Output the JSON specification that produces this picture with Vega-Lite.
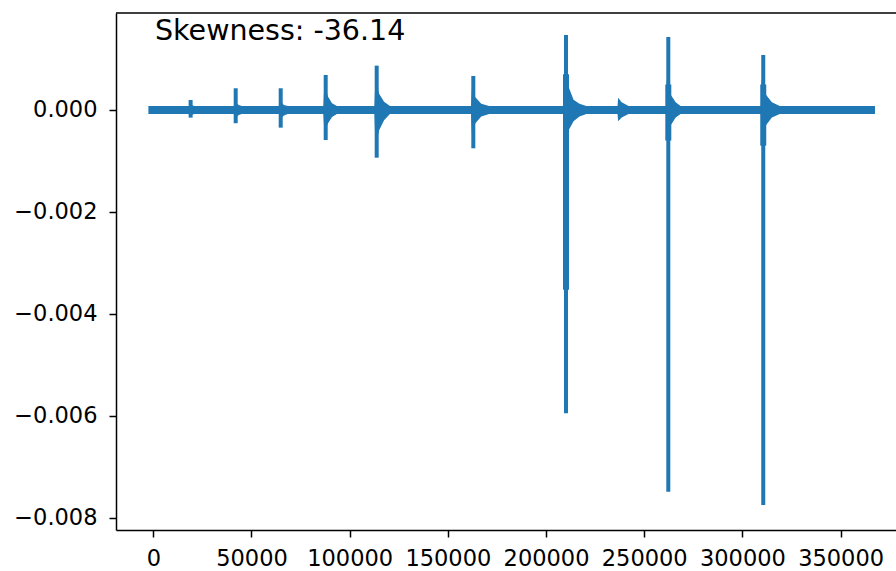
{
  "$schema": "https://vega.github.io/schema/vega-lite/v6.json",
  "width": 780,
  "height": 517,
  "autosize": {"type": "none"},
  "padding": {"left": 116, "top": 13, "right": 0, "bottom": 41},
  "background": "white",
  "config": {
    "view": {"stroke": null},
    "font": "DejaVu Sans",
    "axis": {
      "grid": false,
      "domainColor": "#000",
      "domainWidth": 1.5,
      "tickColor": "#000",
      "tickWidth": 1.5,
      "tickSize": 7,
      "labelFont": "DejaVu Sans",
      "labelFontSize": 22.5,
      "labelColor": "#000",
      "title": null
    }
  },
  "datasets": {
    "band": [
      {"x": -2500, "hi": 0.00008, "lo": -0.00008},
      {"x": 18300, "hi": 0.00008, "lo": -0.00008},
      {"x": 18700, "hi": 0.00012, "lo": -0.00012},
      {"x": 20000, "hi": 0.00009, "lo": -0.00009},
      {"x": 21000, "hi": 0.00008, "lo": -0.00008},
      {"x": 41000, "hi": 0.00008, "lo": -0.00008},
      {"x": 41500, "hi": 0.00016, "lo": -0.00016},
      {"x": 43500, "hi": 0.0001, "lo": -0.0001},
      {"x": 45000, "hi": 0.00008, "lo": -0.00008},
      {"x": 64000, "hi": 0.00008, "lo": -0.00008},
      {"x": 64500, "hi": 0.00018, "lo": -0.00018},
      {"x": 66500, "hi": 0.0001, "lo": -0.00011},
      {"x": 68500, "hi": 0.00008, "lo": -0.00008},
      {"x": 86600, "hi": 0.00008, "lo": -0.00008},
      {"x": 87100, "hi": 0.0005, "lo": -0.00042},
      {"x": 89000, "hi": 0.00026, "lo": -0.00026},
      {"x": 91000, "hi": 0.00013, "lo": -0.00014},
      {"x": 93500, "hi": 0.00008, "lo": -0.00008},
      {"x": 112600, "hi": 0.00008, "lo": -0.00008},
      {"x": 113100, "hi": 0.0006, "lo": -0.0007},
      {"x": 115000, "hi": 0.00032, "lo": -0.0004},
      {"x": 117500, "hi": 0.00016, "lo": -0.0002},
      {"x": 120500, "hi": 0.00008, "lo": -0.00008},
      {"x": 161800, "hi": 0.00008, "lo": -0.00008},
      {"x": 162300, "hi": 0.00045, "lo": -0.0005},
      {"x": 164000, "hi": 0.00025, "lo": -0.00026},
      {"x": 167000, "hi": 0.00012, "lo": -0.00013},
      {"x": 171000, "hi": 0.00008, "lo": -0.00008},
      {"x": 208900, "hi": 0.00008, "lo": -0.00008},
      {"x": 209400, "hi": 0.0008, "lo": -0.0006},
      {"x": 211500, "hi": 0.00045, "lo": -0.0004},
      {"x": 214000, "hi": 0.0002, "lo": -0.00022},
      {"x": 217000, "hi": 0.00012, "lo": -0.00013},
      {"x": 220500, "hi": 0.00008, "lo": -0.00008},
      {"x": 236400, "hi": 0.00008, "lo": -0.00008},
      {"x": 236700, "hi": 0.00024, "lo": -0.00022},
      {"x": 238500, "hi": 0.00015, "lo": -0.00015},
      {"x": 242000, "hi": 0.00008, "lo": -0.00008},
      {"x": 261100, "hi": 0.00008, "lo": -0.00008},
      {"x": 261500, "hi": 0.0006, "lo": -0.0006},
      {"x": 263500, "hi": 0.0003, "lo": -0.0003},
      {"x": 266000, "hi": 0.00015, "lo": -0.00015},
      {"x": 268500, "hi": 0.00008, "lo": -0.00008},
      {"x": 309400, "hi": 0.00008, "lo": -0.00008},
      {"x": 309800, "hi": 0.0006, "lo": -0.0006},
      {"x": 312000, "hi": 0.0003, "lo": -0.0003},
      {"x": 315000, "hi": 0.00015, "lo": -0.00015},
      {"x": 319000, "hi": 0.00008, "lo": -0.00008},
      {"x": 367500, "hi": 0.00008, "lo": -0.00008}
    ],
    "spikes": [
      {"x": 19000, "top": 0.000196, "bottom": -0.00015},
      {"x": 41950, "top": 0.000426, "bottom": -0.00026},
      {"x": 64870, "top": 0.000426, "bottom": -0.000347},
      {"x": 87780, "top": 0.000687, "bottom": -0.000589},
      {"x": 113750, "top": 0.00087, "bottom": -0.000936},
      {"x": 162950, "top": 0.000667, "bottom": -0.000752},
      {"x": 210150, "top": 0.00147, "bottom": -0.00595},
      {"x": 262250, "top": 0.00143, "bottom": -0.00749},
      {"x": 310600, "top": 0.00108, "bottom": -0.00775}
    ],
    "cores": [
      {"x": 210150, "top": 0.0007, "bottom": -0.00353},
      {"x": 262250, "top": 0.0005, "bottom": -0.0006},
      {"x": 310600, "top": 0.0005, "bottom": -0.0007}
    ],
    "notes": [
      {"x": 870, "y": 0.001374, "label": "Skewness: -36.14"}
    ]
  },
  "layer": [
    {
      "data": {"name": "band"},
      "mark": {"type": "area", "color": "#1f77b4", "opacity": 1},
      "encoding": {
        "x": {
          "field": "x",
          "type": "quantitative",
          "scale": {"domain": [-19000, 378200], "nice": false, "zero": false},
          "axis": {"values": [0, 50000, 100000, 150000, 200000, 250000, 300000, 350000], "format": "d", "labelPadding": 10}
        },
        "y": {
          "field": "hi",
          "type": "quantitative",
          "scale": {"domain": [-0.008242, 0.001903], "nice": false, "zero": false},
          "axis": {"values": [-0.008, -0.006, -0.004, -0.002, 0], "format": ".3f", "labelPadding": 12}
        },
        "y2": {"field": "lo"}
      }
    },
    {
      "data": {"name": "cores"},
      "mark": {"type": "rule", "color": "#1f77b4", "strokeWidth": 6},
      "encoding": {
        "x": {"field": "x", "type": "quantitative"},
        "y": {"field": "top", "type": "quantitative"},
        "y2": {"field": "bottom"}
      }
    },
    {
      "data": {"name": "spikes"},
      "mark": {"type": "rule", "color": "#1f77b4", "strokeWidth": 4},
      "encoding": {
        "x": {"field": "x", "type": "quantitative"},
        "y": {"field": "top", "type": "quantitative"},
        "y2": {"field": "bottom"}
      }
    },
    {
      "data": {"values": [{}]},
      "mark": {"type": "rule", "color": "#000", "strokeWidth": 1.5},
      "encoding": {"y": {"datum": 0.001903}}
    },
    {
      "data": {"name": "notes"},
      "mark": {"type": "text", "align": "left", "baseline": "alphabetic", "fontSize": 28.5, "font": "DejaVu Sans", "color": "#000"},
      "encoding": {
        "x": {"field": "x", "type": "quantitative"},
        "y": {"field": "y", "type": "quantitative"},
        "text": {"field": "label"}
      }
    }
  ]
}
